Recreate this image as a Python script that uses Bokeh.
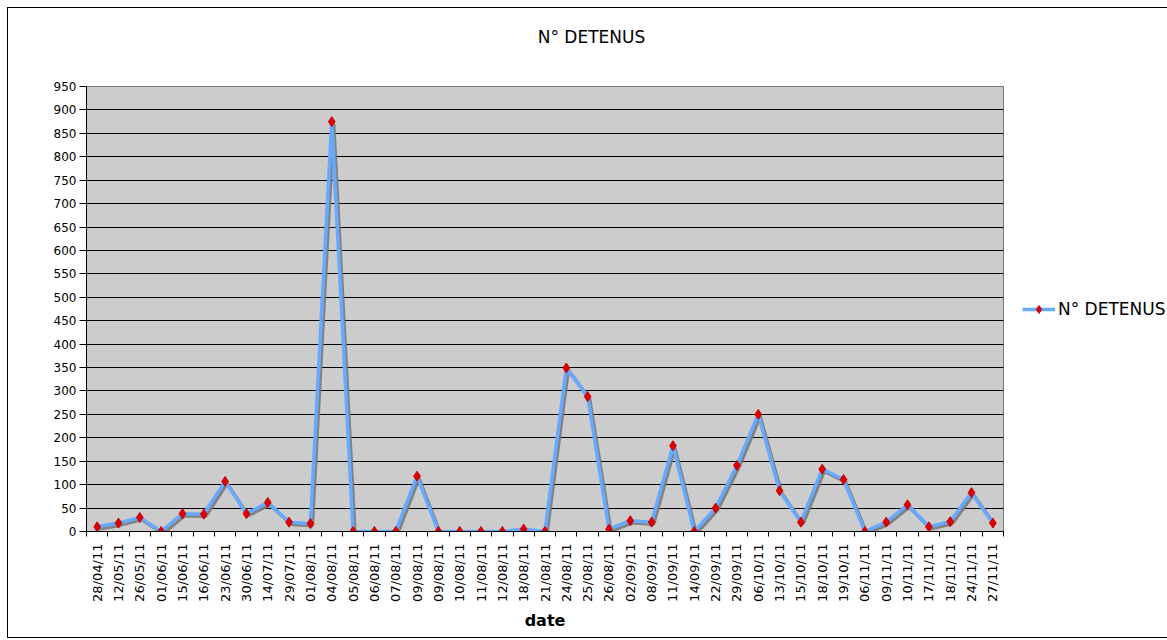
import math
from bokeh.plotting import figure
from bokeh.models import ColumnDataSource, FixedTicker, Legend, LegendItem, Range1d, LinearAxis
from bokeh.transform import dodge
from bokeh.embed import file_html
from bokeh.resources import INLINE

dates = ["28/04/11", "12/05/11", "26/05/11", "01/06/11", "15/06/11", "16/06/11", "23/06/11",
         "30/06/11", "14/07/11", "29/07/11", "01/08/11", "04/08/11", "05/08/11", "06/08/11",
         "07/08/11", "09/08/11", "09/08/11", "10/08/11", "11/08/11", "12/08/11", "18/08/11",
         "21/08/11", "24/08/11", "25/08/11", "26/08/11", "02/09/11", "08/09/11", "11/09/11",
         "14/09/11", "22/09/11", "29/09/11", "06/10/11", "13/10/11", "15/10/11", "18/10/11",
         "19/10/11", "06/11/11", "09/11/11", "10/11/11", "17/11/11", "18/11/11", "24/11/11",
         "27/11/11"]
detenus = [10, 18, 30, 0, 38, 37, 107, 38, 62, 20, 17, 875, 0, 0,
           0, 118, 0, 0, 0, 0, 5,
           0, 349, 288, 5, 23, 20, 183,
           0, 50, 141, 250, 87, 20, 133,
           111, 0, 20, 57, 10, 21, 83,
           18]
y_ticks = list(range(0, 951, 50))
title_text = "N° DETENUS"
series_name = "N° DETENUS"

n = len(dates)
xs = [i + 0.5 for i in range(n)]
src = ColumnDataSource(dict(x=xs, y=detenus))

FRAME_W, FRAME_H = 917, 445
p = figure(frame_width=FRAME_W, frame_height=FRAME_H, output_backend="svg", toolbar_location=None,
           x_range=Range1d(0, n), y_range=Range1d(0, 950),
           min_border_left=78, min_border_right=10, min_border_top=78, min_border_bottom=106,
           background_fill_color="#cccccc", border_fill_color="white")
p.styles = {"border": "1px solid black", "margin": "7px"}

# chart title, centred on the whole chart (not the plot area): drawn as the single
# label of an empty top axis, placed 505 px right of the frame's left edge
title_pos = n * 505 / FRAME_W
top_axis = LinearAxis(ticker=FixedTicker(ticks=[title_pos], minor_ticks=[]),
                      major_label_overrides={title_pos: title_text},
                      axis_line_color=None, major_tick_line_color=None,
                      minor_tick_line_color=None,
                      major_label_text_font="DejaVu Sans", major_label_text_font_size="17px",
                      major_label_text_color="black", major_label_standoff=34)
p.add_layout(top_axis, "above")

p.outline_line_color = "#777777"

# shadow
p.line(x=dodge("x", 0.09, range=p.x_range), y=dodge("y", -4.5, range=p.y_range), source=src,
       line_color="#7a7a7a", line_width=3.5, line_alpha=0.9)
ln = p.line("x", "y", source=src, line_color="#66aaff", line_width=3.5)
sc = p.scatter("x", "y", source=src, marker="diamond", size=10, fill_color="#dd0000",
               line_color="#cc0000")

xaxis = p.below[0]
xaxis.ticker = FixedTicker(ticks=xs, minor_ticks=list(range(0, n + 1)))
xaxis.major_label_overrides = {x: d for x, d in zip(xs, dates)}
xaxis.major_label_orientation = math.pi / 2
xaxis.major_tick_line_color = None
xaxis.minor_tick_line_color = "black"
xaxis.minor_tick_out = 5
xaxis.minor_tick_in = 0
xaxis.axis_line_color = "black"
xaxis.major_label_text_font = "DejaVu Sans"
xaxis.major_label_text_font_size = "13px"
xaxis.major_label_text_color = "black"
xaxis.major_label_standoff = 6
xaxis.axis_label = "date"
xaxis.axis_label_text_font = "DejaVu Sans"
xaxis.axis_label_text_font_size = "16px"
xaxis.axis_label_text_font_style = "bold"
xaxis.axis_label_text_color = "black"
xaxis.axis_label_standoff = 6

p.yaxis.ticker = FixedTicker(ticks=y_ticks, minor_ticks=[])
p.yaxis.major_tick_out = 7
p.yaxis.major_tick_in = 0
p.yaxis.major_tick_line_color = "black"
p.yaxis.axis_line_color = "black"
p.yaxis.major_label_text_font = "DejaVu Sans"
p.yaxis.major_label_text_font_size = "12px"
p.yaxis.major_label_text_color = "black"
p.yaxis.major_label_standoff = 3

p.xgrid.grid_line_color = None
p.ygrid.ticker = FixedTicker(ticks=y_ticks)
p.ygrid.grid_line_color = "black"
p.ygrid.grid_line_width = 1

legend = Legend(items=[LegendItem(label=series_name, renderers=[ln, sc])],
                location="center_left",
                label_text_font="DejaVu Sans", label_text_font_size="17px",
                label_text_color="black",
                border_line_color=None, background_fill_alpha=0,
                glyph_width=33, label_standoff=3, margin=19, padding=0)
p.add_layout(legend, "right")

open("out.html", "w").write(file_html(p, INLINE))
